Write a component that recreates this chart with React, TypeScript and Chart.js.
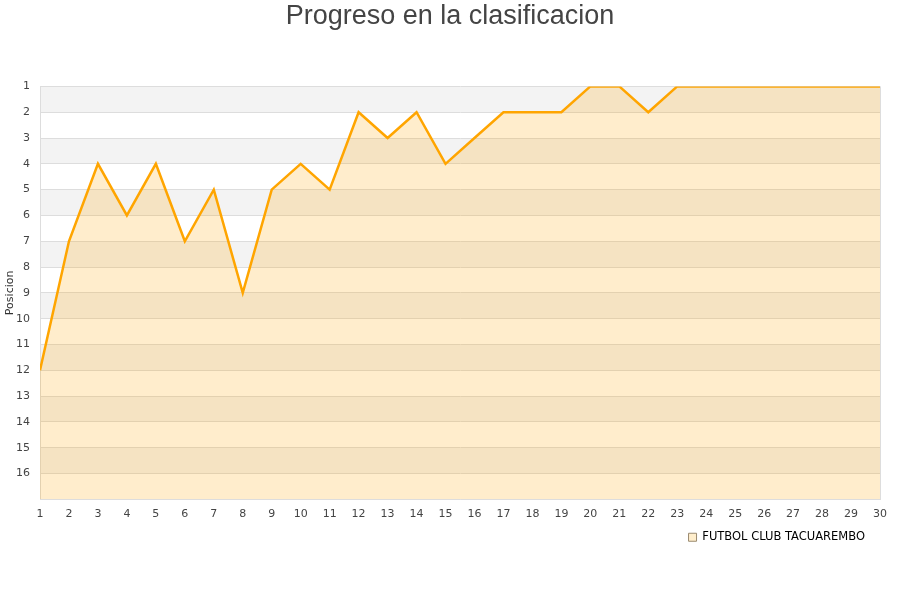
import React, { useEffect, useRef } from "react";
import { Chart, registerables } from "chart.js";

Chart.register(...registerables);

const rounds: string[] = [
  "1", "2", "3", "4", "5", "6", "7", "8", "9", "10",
  "11", "12", "13", "14", "15", "16", "17", "18", "19", "20",
  "21", "22", "23", "24", "25", "26", "27", "28", "29", "30",
];
const positions: number[] = [
  12, 7, 4, 6, 4, 7, 5, 9, 5, 4,
  5, 2, 3, 2, 4, 3, 2, 2, 2, 1,
  1, 2, 1, 1, 1, 1, 1, 1, 1, 1,
];
const teamName = "FUTBOL CLUB TACUAREMBO";
const chartTitle = "Progreso en la clasificacion";
const yAxisTitle = "Posicion";
const yMin = 1;
const yMax = 17;

const bandsPlugin = {
  id: "bands",
  afterLayout(chart: any) {
    const lg = chart.legend;
    if (lg) {
      lg.left -= 5;
      lg.right -= 5;
      lg.top -= 7;
      lg.bottom -= 7;
    }
    const tb = chart.titleBlock;
    if (tb) {
      tb.left += 10;
      tb.right += 10;
    }
  },
  beforeDraw(chart: any) {
    const { ctx, chartArea, scales } = chart;
    const y = scales.y;
    ctx.save();
    ctx.fillStyle = "#f3f3f3";
    for (let v = yMin; v < yMax; v += 2) {
      const t = y.getPixelForValue(v);
      const b = y.getPixelForValue(v + 1);
      ctx.fillRect(chartArea.left, t, chartArea.right - chartArea.left, b - t);
    }
    ctx.restore();
  },
  afterDraw(chart: any) {
    const { ctx, chartArea } = chart;
    ctx.save();
    ctx.strokeStyle = "#dddddd";
    ctx.lineWidth = 1;
    ctx.beginPath();
    ctx.moveTo(chartArea.right + 0.5, chartArea.top);
    ctx.lineTo(chartArea.right + 0.5, chartArea.bottom);
    ctx.stroke();
    ctx.restore();
  },
};

export default function App() {
  const ref = useRef<HTMLCanvasElement | null>(null);
  useEffect(() => {
    if (!ref.current) return;
    const chart = new Chart(ref.current, {
      type: "line",
      data: {
        labels: rounds,
        datasets: [
          {
            label: teamName,
            data: positions,
            borderColor: "#ffa500",
            backgroundColor: "rgba(255,165,0,0.2)",
            borderWidth: 2.5,
            pointRadius: 0,
            fill: "start",
            tension: 0,
            clip: 0,
          },
        ],
      },
      plugins: [bandsPlugin],
      options: {
        responsive: false,
        animation: false,
        layout: { padding: { left: 0, right: 20, top: 0, bottom: 40 } },
        plugins: {
          title: {
            display: true,
            text: chartTitle,
            color: "#444444",
            font: { family: "'Liberation Sans', Arial, sans-serif", size: 27, weight: "normal" },
            padding: { top: 0, bottom: 54 },
          },
          legend: {
            position: "bottom",
            align: "end",
            labels: {
              boxWidth: 8,
              boxHeight: 8,
              color: "#222222",
              font: { family: "'DejaVu Sans', sans-serif", size: 11.5 },
              generateLabels: () => [
                {
                  text: teamName,
                  fillStyle: "#ffeecc",
                  strokeStyle: "#9a8a70",
                  lineWidth: 1,
                  hidden: false,
                  datasetIndex: 0,
                },
              ],
            },
          },
          tooltip: { enabled: false },
        },
        scales: {
          x: {
            type: "category",
            offset: false,
            grid: { display: false, drawTicks: false },
            border: { display: true, color: "#dddddd" },
            ticks: {
              color: "#444444",
              font: { family: "'DejaVu Sans', sans-serif", size: 11 },
              maxRotation: 0,
              autoSkip: false,
              padding: 8,
            },
          },
          y: {
            type: "linear",
            reverse: true,
            min: yMin,
            max: yMax,
            afterFit: (scale: any) => {
              scale.width = 40;
            },
            grid: { color: "#dddddd", drawTicks: false },
            border: { display: true, color: "#dddddd" },
            title: {
              display: true,
              text: yAxisTitle,
              color: "#333333",
              font: { family: "'DejaVu Sans', sans-serif", size: 11 },
              padding: { top: 4, bottom: 0 },
            },
            ticks: {
              stepSize: 1,
              color: "#444444",
              font: { family: "'DejaVu Sans', sans-serif", size: 11 },
              padding: 10,
              callback: (v: any) => (Number(v) >= yMax ? "" : String(v)),
            },
          },
        },
      },
    });
    return () => chart.destroy();
  }, []);
  return (
    <div style={{ position: "absolute", left: 0, top: 0, width: 900, height: 600, background: "#ffffff" }}>
      <canvas ref={ref} width={900} height={600} />
    </div>
  );
}
